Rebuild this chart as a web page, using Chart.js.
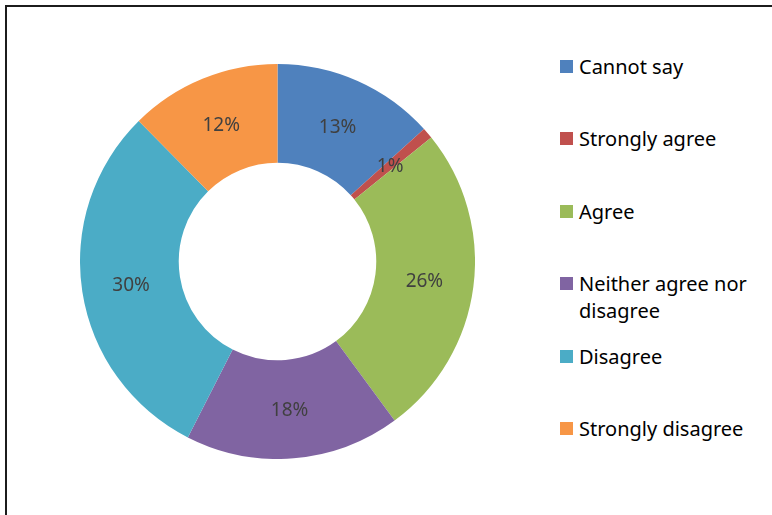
<!DOCTYPE html>
<html lang="en">
<head>
<meta charset="UTF-8">
<script src="https://cdn.jsdelivr.net/npm/chart.js"></script>
<title>Doughnut</title>
<style>
    body { margin: 0; background: #fff; width: 772px; height: 515px; overflow: hidden; position: relative; font-family: "Noto Sans", sans-serif; }
    .frame { position: absolute; left: 5px; top: 5px; width: 900px; height: 700px; border-top: 2px solid #1c1c1c; border-left: 2px solid #1c1c1c; }
    .grafico { position: absolute; left: 80px; top: 63.5px; width: 395px; height: 395px; }
    .legenda { position: absolute; left: 560px; top: 52.5px; width: 210px; }
    .item { display: flex; align-items: flex-start; height: 72.5px; }
    .item .cor { width: 13px; height: 13px; margin-top: 7px; margin-right: 6px; flex: none; }
    .item .txt { font-size: 20px; line-height: 27px; color: #000; width: 185px; }
</style>
</head>
<body>
    <div class="frame"></div>
    <div class="grafico"><canvas id="myChartCanvas"></canvas></div>
    <div class="legenda" id="legenda"></div>

<script>
    // categorias e valores (%)
    const categorias = ['Cannot say', 'Strongly agree', 'Agree', 'Neither agree nor disagree', 'Disagree', 'Strongly disagree'];
    const valores = [13.3, 0.9, 25.7, 17.6, 30.1, 12.4];
    const cores = ['#4F81BD', '#C0504D', '#9BBB59', '#8064A2', '#4BACC6', '#F79646'];

    // legenda em html (o chart.js não quebra linha no texto da legenda)
    const legenda = document.getElementById('legenda');
    categorias.forEach(function (nome, i) {
        const item = document.createElement('div');
        item.className = 'item';
        item.innerHTML = '<span class="cor" style="background:' + cores[i] + '"></span><span class="txt">' + nome + '</span>';
        legenda.appendChild(item);
    });

    // rótulos de porcentagem no meio de cada fatia
    const rotulos = {
        id: 'rotulos',
        afterDatasetsDraw(chart) {
            const ctx = chart.ctx;
            const meta = chart.getDatasetMeta(0);
            ctx.save();
            ctx.font = '19px "Noto Sans"';
            ctx.fillStyle = '#404040';
            ctx.textAlign = 'center';
            ctx.textBaseline = 'middle';
            meta.data.forEach(function (arco, i) {
                const p = arco.tooltipPosition();
                ctx.fillText(Math.round(valores[i]) + '%', p.x, p.y + 1);
            });
            ctx.restore();
        }
    };

    const config = {
        type: 'doughnut',
        data: {
            labels: categorias,
            datasets: [{
                data: valores,
                backgroundColor: cores,
                borderWidth: 0
            }]
        },
        options: {
            responsive: true,
            maintainAspectRatio: false,
            animation: false,
            cutout: '50%',
            layout: { padding: 0 },
            plugins: {
                legend: { display: false },
                tooltip: { enabled: false }
            }
        },
        plugins: [rotulos]
    };

    const myChart = new Chart(document.getElementById('myChartCanvas'), config);
</script>
</body>
</html>
